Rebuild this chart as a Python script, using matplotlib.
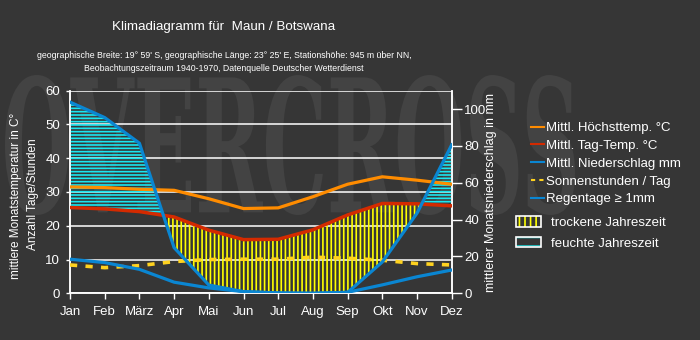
import matplotlib
matplotlib.use('Agg')
import matplotlib.pyplot as plt
import numpy as np
from matplotlib.lines import Line2D
from matplotlib.patches import Patch, PathPatch
from matplotlib.textpath import TextPath
from matplotlib.font_manager import FontProperties
from matplotlib.transforms import Affine2D
from matplotlib.legend_handler import HandlerTuple

plt.rcParams['font.family'] = ['Liberation Sans', 'DejaVu Sans']
plt.rcParams['hatch.linewidth'] = 1.2

months = ['Jan', 'Feb', 'März', 'Apr', 'Mai', 'Jun', 'Jul', 'Aug', 'Sep', 'Okt', 'Nov', 'Dez']
t_max = [31.5, 31.3, 30.8, 30.5, 28.0, 25.1, 25.3, 28.6, 32.3, 34.5, 33.5, 32.3]
t_mean = [25.4, 25.0, 24.2, 22.6, 18.7, 15.9, 16.0, 18.8, 23.2, 26.6, 26.5, 25.9]
precip = [103.8, 95.4, 81.5, 24.8, 4.5, 0.9, 0.2, 0.0, 0.5, 17.0, 43.5, 80.6]
sun = [8.4, 7.6, 8.2, 9.4, 10.0, 10.1, 10.1, 10.7, 10.4, 9.8, 8.8, 8.4]
rain_days = [10.1, 9.1, 7.1, 3.3, 1.6, 0.5, 0.1, 0.0, 0.3, 2.5, 4.9, 6.9]

BG = '#363636'
C_MAX = '#ff8c00'
C_MEAN = '#d42a00'
C_BLUE = '#0a86d2'
C_SUN = '#ffd21f'

T_TOP = 60
P_TOP = 110

x = np.arange(len(months))
t_mean_a = np.array(t_mean)
# Niederschlag auf Temperaturskala (60 °C entspricht 110 mm)
precip_c = np.array(precip) * T_TOP / P_TOP

fig = plt.figure(figsize=(7, 3.4), dpi=100, facecolor=BG)

# Wasserzeichen
fp = FontProperties(family='DejaVu Serif', weight='bold')
tp = TextPath((0, 0), 'OVERCROSS', size=100, prop=fp)
bb = tp.get_extents()
tr = (Affine2D().translate(-bb.x0, -bb.y0)
      .scale(570 / bb.width / 700, 140 / bb.height / 340)
      .translate(5 / 700, (340 - 215) / 340))
fig.add_artist(PathPatch(tr.transform_path(tp), fc='#434343', ec='none',
                         transform=fig.transFigure, zorder=-5))

ax = fig.add_axes([0.1, 0.1373, 0.5453, 0.596])
ax.set_facecolor('none')
ax2 = ax.twinx()
ax.set_zorder(ax2.get_zorder() + 1)
ax.patch.set_visible(False)

# feuchte / trockene Jahreszeit
ax.fill_between(x, t_mean_a, precip_c, where=precip_c >= t_mean_a, interpolate=True,
                facecolor='none', edgecolor='#19e6f0', hatch='-----', linewidth=0, zorder=2)
ax.fill_between(x, t_mean_a, precip_c, where=precip_c <= t_mean_a, interpolate=True,
                facecolor='none', edgecolor='#ffff00', hatch='||||', linewidth=0, zorder=2)

ax.plot(x, t_max, color=C_MAX, lw=2.3, zorder=4)
ax.plot(x, t_mean, color=C_MEAN, lw=2.5, zorder=4)
ax.plot(x, sun, color=C_SUN, lw=2.6, ls=(0, (2.0, 2.3)), zorder=4)
ax.plot(x, precip, color=C_BLUE, lw=2.3, zorder=5, transform=ax2.transData)
ax.plot(x, rain_days, color=C_BLUE, lw=2.3, zorder=5)

ax.set_xlim(0, len(months) - 1)
ax.set_ylim(0, T_TOP)
ax2.set_ylim(0, P_TOP)

ax.set_xticks(x)
ax.set_xticklabels(months)
ax.set_yticks(np.arange(0, 61, 10))
ax2.set_yticks(np.arange(0, 101, 20))

ax.yaxis.grid(True, color='white', lw=1.1)
ax.set_axisbelow(True)

for a in (ax, ax2):
    for s in a.spines.values():
        s.set_color('white')
        s.set_linewidth(1.1)
    a.spines['top'].set_visible(False)
ax.tick_params(axis='x', colors='white', labelsize=9.5, length=4, width=1, pad=5)
ax.tick_params(axis='y', colors='white', labelsize=9.5, length=3, width=1, pad=4)
ax2.tick_params(axis='y', colors='white', labelsize=9.5, length=7, width=1, pad=2)

fig.text(0.023, 0.424, 'mittlere Monatstemperatur in C°', rotation=90, color='white',
         fontsize=8.5, ha='center', va='center')
fig.text(0.047, 0.428, 'Anzahl Tage/Stunden', rotation=90, color='white',
         fontsize=8.5, ha='center', va='center')
fig.text(0.701, 0.435, 'mittlerer Monatsniederschlag in mm', rotation=90, color='white',
         fontsize=9, ha='center', va='center')

fig.text(0.32, 0.92, 'Klimadiagramm für  Maun / Botswana', color='white',
         fontsize=9.6, ha='center', va='center')
fig.text(0.32, 0.818, 'geographische Breite: 19° 59\' S, geographische Länge: 23° 25\' E, '
         'Stationshöhe: 945 m über NN,\nBeobachtungszeitraum 1940-1970, Datenquelle '
         'Deutscher Wetterdienst', color='white', fontsize=6.3, ha='center', va='center',
         linespacing=1.55)

line_handles = [
    Line2D([], [], color=C_MAX, lw=1.5),
    Line2D([], [], color=C_MEAN, lw=1.5),
    Line2D([], [], color=C_BLUE, lw=1.5),
    Line2D([], [], color=C_SUN, lw=1.5, ls=(0, (2, 2))),
    Line2D([], [], color=C_BLUE, lw=1.5),
]
line_labels = ['Mittl. Höchsttemp. °C', 'Mittl. Tag-Temp. °C', 'Mittl. Niederschlag mm',
               'Sonnenstunden / Tag', 'Regentage ≥ 1mm']
fig.legend(line_handles, line_labels, loc='upper left',
           bbox_to_anchor=(531 / 700, 1 - 122 / 340), frameon=False,
           fontsize=9.5, labelcolor='white', handlelength=1.0, handletextpad=0.15,
           labelspacing=0.42, borderpad=0, borderaxespad=0)

dry = (Patch(facecolor='none', edgecolor='#ffff00', hatch='|||', lw=0),
       Patch(facecolor='none', edgecolor='white', lw=1.2))
wet = (Patch(facecolor='none', edgecolor='#1fb0b0', hatch='--', lw=0),
       Patch(facecolor='none', edgecolor='white', lw=1.2))
fig.legend([dry, wet], ['trockene Jahreszeit', 'feuchte Jahreszeit'], loc='upper left',
           bbox_to_anchor=(516 / 700, 1 - 216 / 340), frameon=False, fontsize=9.5,
           labelcolor='white', handlelength=1.9, handleheight=0.85, handletextpad=0.75,
           labelspacing=0.6, borderpad=0, borderaxespad=0,
           handler_map={tuple: HandlerTuple(ndivide=1, pad=0)})

fig.savefig('out.png', dpi=100, facecolor=BG)
